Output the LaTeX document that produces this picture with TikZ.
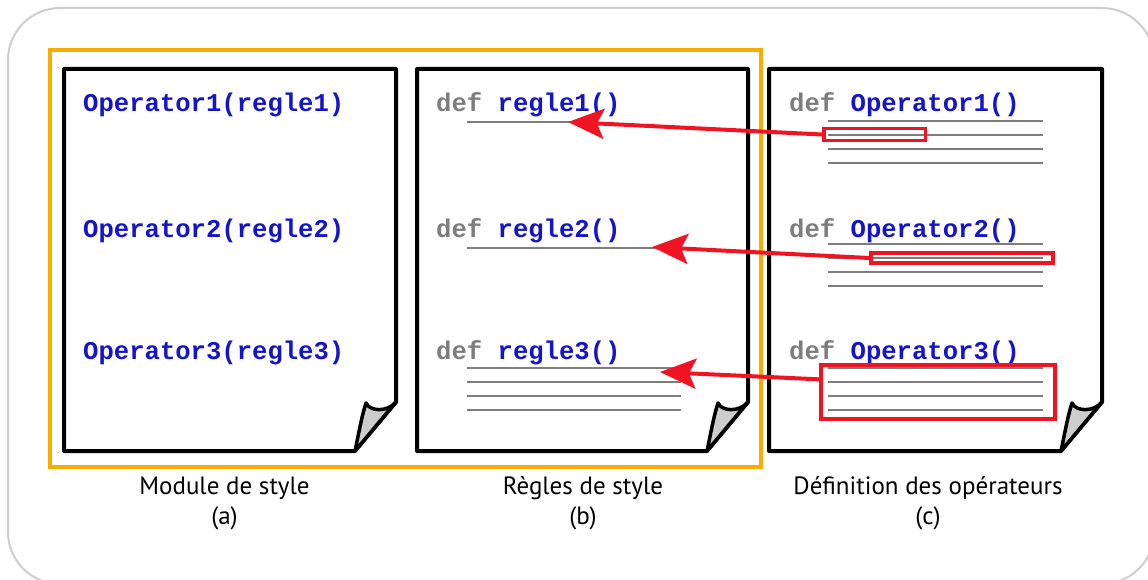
\documentclass[tikz,border=0pt]{standalone}
\usepackage{fontspec}
\setmainfont{PT Sans}
\setmonofont{Liberation Mono}
\usetikzlibrary{arrows.meta,calc}
\definecolor{codeblue}{RGB}{20,20,200}
\definecolor{codegray}{RGB}{125,125,125}
\definecolor{arrowred}{RGB}{240,20,35}
\definecolor{framegold}{RGB}{248,172,0}
\definecolor{outergray}{RGB}{205,205,205}
\definecolor{flapgray}{RGB}{205,205,205}
\newcommand\docpage[2]{%
  \path[docedge] (#1,69) -- (#2,69) -- (#2,402) -- ({#2-41},451) -- (#1,451) -- cycle;
  \path[flap] ({#2-41},451) .. controls ({#2-37},432) and ({#2-34},415) .. ({#2-30},403)
     .. controls ({#2-26},412) and ({#2-8},412) .. (#2,402) -- cycle;
}
\newcommand\rulelines[4]{% x1, x2, first y, count
  \foreach \k in {1,...,#4} {\draw[rule] (#1,{#3+14*(\k-1)}) -- (#2,{#3+14*(\k-1)});}
}
\begin{document}
\begin{tikzpicture}[x=1pt,y=-1pt,
  code/.style={font=\fontsize{25.6}{26}\selectfont\ttfamily\bfseries, inner sep=0pt, anchor=base west},
  rule/.style={draw=codegray, line width=2pt},
  docedge/.style={draw=black, fill=white, line width=4pt, line join=round},
  flap/.style={draw=black, fill=flapgray, line width=3.5pt, line join=round},
  hl/.style={draw=arrowred, line width=3.5pt, inner sep=0pt},
  link/.style={draw=arrowred, line width=4pt, -{Stealth[length=36pt,width=30pt,inset=7pt]}},
  caption/.style={font=\fontsize{25}{28}\selectfont, anchor=base, inner sep=0pt}
]
\useasboundingbox (0,0) rectangle (1148,580);
\clip (0,0) rectangle (1148,580);
\fill[white] (0,0) rectangle (1148,580);
\draw[outergray, line width=2pt, rounded corners=52pt] (8,8) rectangle (1154,584);
\draw[framegold, line width=4pt] (50,50) rectangle (761,467);

\docpage{64}{396}
\docpage{417}{748}
\docpage{769}{1102}

% page (a)
\node[code, text=codeblue] (op1) at (83,112) {Operator1(regle1)};
\node[code, text=codeblue] (op2) at (83,237) {Operator2(regle2)};
\node[code, text=codeblue] (op3) at (83,359) {Operator3(regle3)};

% page (b)
\node[code] (rg1) at (436,112) {\textcolor{codegray}{def} \textcolor{codeblue}{regle1()}};
\node[code] (rg2) at (436,237) {\textcolor{codegray}{def} \textcolor{codeblue}{regle2()}};
\node[code] (rg3) at (436,359) {\textcolor{codegray}{def} \textcolor{codeblue}{regle3()}};
\draw[rule] (467,122) -- (575,122);
\draw[rule] (467,248) -- (655,248);
\rulelines{467}{681}{368}{4}

% page (c)
\node[code] (df1) at (789,112) {\textcolor{codegray}{def} \textcolor{codeblue}{Operator1()}};
\node[code] (df2) at (789,237) {\textcolor{codegray}{def} \textcolor{codeblue}{Operator2()}};
\node[code] (df3) at (789,359) {\textcolor{codegray}{def} \textcolor{codeblue}{Operator3()}};
\rulelines{828}{1043}{121}{4}
\rulelines{828}{1043}{244}{4}
\rulelines{828}{1043}{368}{4}

% highlights
\node[hl, minimum width=101.5pt, minimum height=12pt] (r1) at (874.75,134.5) {};
\node[hl, minimum width=182pt, minimum height=10pt] (r2) at (962,258) {};
\node[hl, minimum width=234pt, minimum height=54pt] (r3) at (938,392) {};

% arrow targets
\coordinate (t1) at (568,122);
\coordinate (t2) at (652,247);
\coordinate (t3) at (660,372);
\draw[link] (r1.west) -- (t1);
\draw[link] (r2.west) -- (t2);
\draw[link] ($(r3.north west)!0.28!(r3.south west)$) -- (t3);

% captions
\node[caption] (capa) at (224.5,494) {Module de style};
\node[caption] (capa2) at (224.5,524) {(a)};
\node[caption] (capb) at (583,494) {Règles de style};
\node[caption] (capb2) at (583,524) {(b)};
\node[caption] (capc) at (928,494) {Définition des opérateurs};
\node[caption] (capc2) at (928,524) {(c)};
\end{tikzpicture}
\end{document}
